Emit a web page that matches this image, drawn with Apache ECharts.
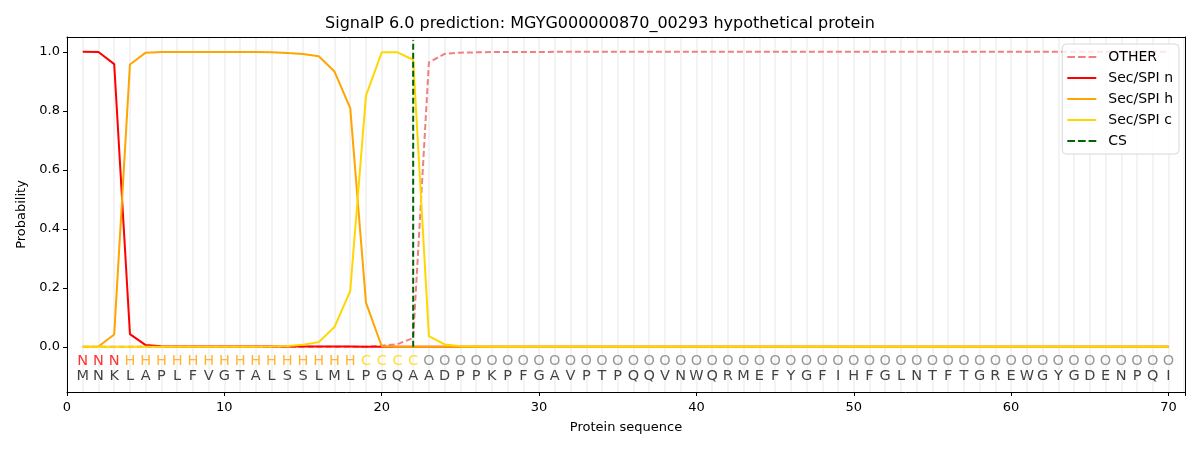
<!DOCTYPE html>
<html>
<head>
<meta charset="utf-8">
<script src="https://cdn.jsdelivr.net/npm/echarts@6/dist/echarts.min.js"></script>
<style>html,body{margin:0;padding:0;background:#fff}#c{width:1200px;height:450px}</style>
</head>
<body>
<div id="c"></div>
<script>
const sequence = "MNKLAPLFVGTALSSLMLPGQAADPPKPFGAVPTPQQVNWQRMEFYGFIHFGLNTFTGREWGYGDENPQI".split("");
const regionLabels = "NNNHHHHHHHHHHHHHHHCCCCOOOOOOOOOOOOOOOOOOOOOOOOOOOOOOOOOOOOOOOOOOOOOOOO".split("");
const other = [0,0,0,0,0,0,0,0,0,0, 0,0,0,0,0,0,0,0,0.001,0.004, 0.009,0.03,0.964,0.993,0.997,0.998,0.999,0.999,0.999,0.999,
  1,1,1,1,1,1,1,1,1,1, 1,1,1,1,1,1,1,1,1,1, 1,1,1,1,1,1,1,1,1,1, 1,1,1,1,1,1,1,1,1,1];
const secN = [1.0,0.999,0.958,0.043,0.006,0.002,0.001,0.001,0.001,0.001, 0.001,0.001,0.001,0.001,0.001,0.001,0.001,0.001,0.0005,0,
  0,0,0,0,0,0,0,0,0,0, 0,0,0,0,0,0,0,0,0,0, 0,0,0,0,0,0,0,0,0,0, 0,0,0,0,0,0,0,0,0,0, 0,0,0,0,0,0,0,0,0,0];
const secH = [0,0.001,0.042,0.957,0.997,0.999,0.999,0.999,0.999,0.999, 0.999,0.999,0.998,0.996,0.992,0.985,0.933,0.809,0.15,0.002,
  0,0,0,0,0,0,0,0,0,0, 0,0,0,0,0,0,0,0,0,0, 0,0,0,0,0,0,0,0,0,0, 0,0,0,0,0,0,0,0,0,0, 0,0,0,0,0,0,0,0,0,0];
const secC = [0,0,0,0,0,0,0,0,0,0, 0,0,0.001,0.003,0.007,0.016,0.067,0.19,0.851,0.998,
  0.998,0.973,0.036,0.008,0.002,0.001,0,0,0,0, 0,0,0,0,0,0,0,0,0,0, 0,0,0,0,0,0,0,0,0,0, 0,0,0,0,0,0,0,0,0,0, 0,0,0,0,0,0,0,0,0,0];
const csPos = 22;
const yTicks = [0, 0.2, 0.4, 0.6, 0.8, 1.0];

const labelColors = {N: '#ff0000', H: '#ffa500', C: '#ffd700', O: '#808080'};
const FONT = 'DejaVu Sans';
const toXY = arr => arr.map((v, i) => [i + 1, v]);
const DASH_ICON = 'path://M0,0h8v2h-8z M11,0h8v2h-8z M22,0h8v2h-8z';
const XMAX = 71.05, YMIN = -0.153, YMAX = 1.05;

const textSeries = (rowY, chars, colorFn) => ({
  type: 'scatter', xAxisIndex: 0, yAxisIndex: 0, symbolSize: 0, silent: true, z: 5,
  data: chars.map((ch, i) => ({value: [i + 1, rowY], name: ch,
    label: {show: true, position: 'inside', formatter: ch, color: colorFn(ch, i), fontSize: 14.5, fontFamily: FONT}}))
});

const chart = echarts.init(document.getElementById('c'), null, {renderer: 'canvas'});
chart.setOption({
  animation: false,
  backgroundColor: '#fff',
  title: {
    text: 'SignalP 6.0 prediction: MGYG000000870_00293 hypothetical protein',
    left: 'center', top: 16, padding: 0,
    textStyle: {fontFamily: FONT, fontSize: 16, fontWeight: 'normal', color: '#000'}
  },
  grid: {left: 67, right: 15, top: 37, bottom: 58, show: false},
  legend: {
    right: 21, top: 44, orient: 'vertical', itemWidth: 29, itemHeight: 2, itemGap: 7,
    padding: [6, 6, 6, 5], backgroundColor: 'rgba(255,255,255,0.8)', borderColor: '#d8d8d8', borderWidth: 1, borderRadius: 4,
    textStyle: {fontFamily: FONT, fontSize: 14, color: '#000', padding: [0, 0, 0, 7]},
    data: [
      {name: 'OTHER', icon: DASH_ICON},
      {name: 'Sec/SPI n', icon: 'rect'},
      {name: 'Sec/SPI h', icon: 'rect'},
      {name: 'Sec/SPI c', icon: 'rect'},
      {name: 'CS', icon: DASH_ICON}
    ]
  },
  xAxis: [{
    type: 'value', min: 0, max: XMAX, interval: 10,
    name: 'Protein sequence', nameLocation: 'middle', nameGap: 29,
    nameTextStyle: {fontFamily: FONT, fontSize: 13, color: '#000'},
    axisLine: {show: true, onZero: false, lineStyle: {color: '#000'}},
    axisTick: {show: true, length: 4, lineStyle: {color: '#000'}},
    axisLabel: {fontFamily: FONT, fontSize: 13, color: '#000', margin: 9,
      formatter: v => (v > 70 ? '' : String(v))},
    splitLine: {show: false}
  }, {
    type: 'value', min: 0, max: XMAX, interval: 1, position: 'bottom',
    axisLine: {show: false, onZero: false}, axisTick: {show: false}, axisLabel: {show: false},
    splitLine: {show: true, lineStyle: {color: '#f3f3f3', width: 2}}
  }, {
    type: 'value', min: 0, max: XMAX, position: 'top',
    axisLine: {show: true, onZero: false, lineStyle: {color: '#000'}}, axisTick: {show: false}, axisLabel: {show: false},
    splitLine: {show: false}
  }],
  yAxis: [{
    type: 'value', min: YMIN, max: YMAX,
    name: 'Probability', nameLocation: 'middle', nameGap: 38, nameRotate: 90,
    nameTextStyle: {fontFamily: FONT, fontSize: 13, color: '#000'},
    axisLine: {show: true, onZero: false, lineStyle: {color: '#000'}},
    axisTick: {show: true, length: 4, customValues: yTicks, lineStyle: {color: '#000'}},
    axisLabel: {fontFamily: FONT, fontSize: 13, color: '#000', margin: 7, customValues: yTicks,
      formatter: v => v.toFixed(1)},
    splitLine: {show: false}
  }, {
    type: 'value', min: YMIN, max: YMAX, position: 'right',
    axisLine: {show: true, onZero: false, lineStyle: {color: '#000'}}, axisTick: {show: false}, axisLabel: {show: false},
    splitLine: {show: false}
  }],
  series: [
    {name: 'OTHER', type: 'line', data: toXY(other), symbol: 'none', z: 3,
      lineStyle: {color: '#f08080', width: 2, type: [6, 3]}, itemStyle: {color: '#f08080'}},
    {name: 'Sec/SPI n', type: 'line', data: toXY(secN), symbol: 'none', z: 3,
      lineStyle: {color: '#ff0000', width: 2}, itemStyle: {color: '#ff0000'}},
    {name: 'Sec/SPI h', type: 'line', data: toXY(secH), symbol: 'none', z: 3,
      lineStyle: {color: '#ffa500', width: 2}, itemStyle: {color: '#ffa500'}},
    {name: 'Sec/SPI c', type: 'line', data: toXY(secC), symbol: 'none', z: 3,
      lineStyle: {color: '#ffd700', width: 2}, itemStyle: {color: '#ffd700'}},
    {name: 'CS', type: 'line', data: [[csPos, 0], [csPos, 1.04]], symbol: 'none', z: 4,
      lineStyle: {color: '#006400', width: 2, type: [6, 3]}, itemStyle: {color: '#006400'}},
    textSeries(-0.05, regionLabels, ch => labelColors[ch]),
    textSeries(-0.1, sequence, () => '#111')
  ]
});
</script>
</body>
</html>
